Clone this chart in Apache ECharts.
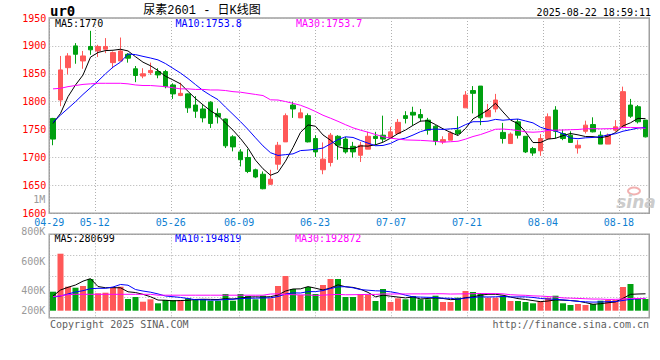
<!DOCTYPE html>
<html><head><meta charset="utf-8">
<script src="https://cdn.jsdelivr.net/npm/echarts@6/dist/echarts.min.js"></script>
<style>html,body{margin:0;padding:0;background:#fff}#c{width:660px;height:360px}</style>
</head><body><div id="c"></div>
<script>
const dates = ['04-29','04-30',
'05-06','05-07','05-08','05-09','05-12','05-13','05-14','05-15','05-16',
'05-19','05-20','05-21','05-22','05-23','05-26','05-27','05-28','05-29','05-30',
'06-03','06-04','06-05','06-06','06-09','06-10','06-11','06-12','06-13',
'06-16','06-17','06-18','06-19','06-20','06-23','06-24','06-25','06-26','06-27',
'06-30','07-01','07-02','07-03','07-04','07-07','07-08','07-09','07-10','07-11',
'07-14','07-15','07-16','07-17','07-18','07-21','07-22','07-23','07-24','07-25',
'07-28','07-29','07-30','07-31','08-01','08-04','08-05','08-06','08-07','08-08',
'08-11','08-12','08-13','08-14','08-15','08-18','08-19','08-20','08-21','08-22'];
const opens = [1770,1803,1861,1900,1873,1899,1891,1894,1870,1873,
1885,1859,1846,1852,1854,1854,1830,1811,1814,1794,
1787,1799,1779,1769,1737,1710,1700,1678,1670,1652,
1688,1728,1794,1771,1775,1734,1678,1691,1738,1733,
1720,1704,1715,1738,1740,1735,1743,1775,1781,1777,
1767,1756,1728,1731,1749,1789,1820,1828,1773,1787,
1745,1725,1764,1738,1716,1712,1734,1785,1743,1740,
1717,1747,1759,1740,1724,1749,1755,1794,1791,1767];
const closes = [1733,1857,1882,1885,1882,1893,1899,1899,1888,1891,
1878,1847,1850,1856,1848,1827,1814,1815,1789,1783,
1771,1761,1773,1721,1719,1696,1675,1665,1644,1661,
1722,1775,1787,1780,1728,1710,1697,1740,1722,1710,
1710,1722,1738,1734,1733,1746,1763,1770,1776,1771,
1749,1729,1732,1744,1743,1812,1815,1771,1785,1803,
1734,1742,1740,1710,1708,1734,1773,1747,1734,1727,
1722,1758,1746,1724,1740,1755,1818,1774,1764,1737];
const lows = [1722,1792,1849,1868,1859,1884,1880,1887,1860,1873,
1870,1835,1842,1848,1842,1824,1805,1810,1780,1771,
1763,1753,1761,1717,1711,1684,1672,1663,1643,1651,
1678,1728,1771,1771,1727,1701,1670,1684,1696,1707,
1700,1692,1715,1722,1728,1735,1743,1761,1758,1764,
1741,1722,1724,1731,1740,1789,1779,1758,1773,1781,
1725,1725,1734,1708,1703,1703,1734,1734,1731,1727,
1707,1743,1745,1724,1724,1746,1755,1771,1761,1736];
const highs = [1771,1882,1887,1905,1891,1927,1902,1914,1890,1915,
1887,1864,1860,1870,1860,1857,1833,1834,1815,1810,
1794,1801,1788,1770,1740,1715,1715,1680,1675,1678,
1728,1779,1800,1788,1779,1740,1727,1744,1740,1737,
1728,1728,1746,1746,1775,1755,1769,1783,1791,1787,
1771,1758,1738,1747,1774,1819,1828,1828,1796,1814,
1762,1745,1769,1738,1719,1742,1779,1792,1750,1747,
1731,1766,1772,1747,1743,1767,1827,1805,1794,1767];
const volumes = [313500,940500,396000,379500,407600,523000,287100,297000,386100,396000,
193000,226000,148500,188100,122100,176500,176500,176500,204600,193000,
193000,165000,165000,275500,165000,275500,242500,188100,247500,204600,
407600,572500,358000,259000,391000,275500,424000,523000,523000,226000,
226000,275500,259000,160000,358000,143500,204600,188100,242500,188100,
188100,247500,143500,143500,214500,325000,308500,292000,214500,214500,
247500,160000,160000,143500,122100,160000,214500,247500,122100,94000,
110500,94000,110500,165000,176500,176500,391000,440500,193000,193000];
const ma5Head = [1761,1779,1809,1830];
const ma10Head = [1763,1776,1788,1800,1813,1825,1837,1850,1862];
const ma30Head = [1823,1824,1827,1829,1831,1832,1833,1833,1833,1833,1832,1830,1829,1829,1828,1827,1825,1823,1823,1822,1822,1821,1821,1820,1818,1817,1815,1813,1811];
const volMa5Head = [242500,341500,386100,424000];
const volMa10Head = [226000,242500,275500,308500,330000,363000,369600,369600,391000];
const volMa30Head = [231000,247500,264000,270600,270600,270600,270600,270600,270600,270600,270600,270600,270600,270600,255700,255700,255700,255700,255700,255700,255700,255700,255700,255700,255700,255700,255700,255700,255700];
const xTickDates = ['04-29','05-12','05-26','06-09','06-23','07-07','07-21','08-04','08-18'];
const priceMin = 1600, priceMax = 1950, priceStep = 50;
const volTickLabels = ['1M','800K','600K','400K','200K'];
const priceMaText = ['MA5:1770','MA10:1753.8','MA30:1753.7'];
const volMaText = ['MA5:280699','MA10:194819','MA30:192872'];

function ma(arr, n, head) {
  return arr.map((_, i) => {
    if (i < n - 1) return head[i];
    let s = 0; for (let k = i - n + 1; k <= i; k++) s += arr[k];
    return +(s / n).toFixed(1);
  });
}
const RED = '#ff5858', GREEN = '#00a010';
const C5 = '#000000', C10 = '#0000ff', C30 = '#ff00ff';
const MONO = "'DejaVu Sans Mono', monospace";
const dotted = {color: '#b0b0b0', type: [1, 2], width: 1};
const showTick = (i, v) => xTickDates.indexOf(v) >= 0;
// vol label layout (px above the bottom of the label band)
const volLabelPos = [118, 86, 56, 27, 7];

const chart = echarts.init(document.getElementById('c'), null, {renderer: 'svg', width: 660, height: 360});
const L = 49.25, W = 600;
const grids = [
  {left: L, width: W, top: 18, height: 195.3, show: true, borderColor: '#a0a0a0', borderWidth: 1.5},
  {left: L, width: W, top: 234.3, height: 83.4, show: true, borderColor: '#a0a0a0', borderWidth: 1.5},
  {left: L, width: W, top: 190, height: 127.7, show: false}
];
const hiddenCat = (g) => ({type: 'category', gridIndex: g, data: dates, boundaryGap: true,
  axisLine: {show: false}, axisTick: {show: false}, axisLabel: {show: false}, splitLine: {show: false}});
const labelCat = (g, labels) => ({type: 'category', gridIndex: g, data: dates, boundaryGap: false, position: 'bottom',
  axisLine: {show: false}, axisTick: {show: false},
  axisLabel: {show: labels, interval: showTick, color: '#0f7fd2', fontFamily: MONO, fontSize: 10, margin: 4},
  splitLine: {show: true, interval: showTick, lineStyle: dotted}});

const option = {
  animation: false,
  backgroundColor: '#fff',
  grid: grids,
  xAxis: [hiddenCat(0), labelCat(0, true), hiddenCat(1), labelCat(1, false),
    {type: 'value', gridIndex: 2, show: false, min: 0, max: 1}],
  yAxis: [
    {type: 'value', gridIndex: 0, min: priceMin, max: priceMax, interval: priceStep,
      axisLine: {show: false}, axisTick: {show: false},
      axisLabel: {color: '#ff0000', fontFamily: MONO, fontSize: 10, margin: 3, formatter: (v) => String(v)},
      splitLine: {show: true, lineStyle: dotted}},
    {type: 'value', gridIndex: 1, min: -115500, max: 1260600, show: false, splitLine: {show: false}},
    {type: 'value', gridIndex: 1, min: 0, max: 4, interval: 1,
      axisLine: {show: false}, axisTick: {show: false}, axisLabel: {show: false},
      splitLine: {show: true, lineStyle: dotted}},
    {type: 'value', gridIndex: 2, min: 0, max: 127.7,
      axisLine: {show: false}, axisTick: {show: false}, splitLine: {show: false},
      axisLabel: {customValues: volLabelPos, color: '#9a9a9a', fontFamily: MONO, fontSize: 10, margin: 4,
        formatter: (v) => volTickLabels[volLabelPos.indexOf(v)] || ''}}
  ],
  series: [
    {type: 'candlestick', xAxisIndex: 0, yAxisIndex: 0, barWidth: 5,
      data: opens.map((o, i) => [o, closes[i], lows[i], highs[i]]),
      itemStyle: {color: RED, color0: GREEN, borderColor: RED, borderColor0: GREEN, borderWidth: 1}},
    {type: 'line', xAxisIndex: 0, yAxisIndex: 0, data: ma(closes, 5, ma5Head), symbol: 'none', lineStyle: {color: C5, width: 1}},
    {type: 'line', xAxisIndex: 0, yAxisIndex: 0, data: ma(closes, 10, ma10Head), symbol: 'none', lineStyle: {color: C10, width: 1}},
    {type: 'line', xAxisIndex: 0, yAxisIndex: 0, data: ma(closes, 30, ma30Head), symbol: 'none', lineStyle: {color: C30, width: 1}},
    {type: 'bar', xAxisIndex: 2, yAxisIndex: 1, barWidth: 6,
      data: volumes.map((v, i) => ({value: v, itemStyle: {color: closes[i] > opens[i] ? RED : GREEN}}))},
    {type: 'line', xAxisIndex: 2, yAxisIndex: 1, data: ma(volumes, 5, volMa5Head), symbol: 'none', lineStyle: {color: C5, width: 1}},
    {type: 'line', xAxisIndex: 2, yAxisIndex: 1, data: ma(volumes, 10, volMa10Head), symbol: 'none', lineStyle: {color: C10, width: 1}},
    {type: 'line', xAxisIndex: 2, yAxisIndex: 1, data: ma(volumes, 30, volMa30Head), symbol: 'none', lineStyle: {color: C30, width: 1}}
  ],
  graphic: [
    {type: 'text', left: 50, top: 4, style: {text: 'ur0', font: "bold 14px 'DejaVu Sans Mono'", fill: '#000'}},
    {type: 'text', x: 202, y: 10.5, style: {text: '尿素2601 - 日K线图', font: "12px 'Liberation Mono', 'Noto Sans CJK SC'", fill: '#000', align: 'center', verticalAlign: 'middle'}},
    {type: 'text', x: 651, y: 12, style: {text: '2025-08-22 18:59:11', font: "10px 'DejaVu Sans Mono'", fill: '#000', align: 'right', verticalAlign: 'middle'}},
    {type: 'text', x: 55, y: 23.5, style: {text: priceMaText[0], font: "10px 'DejaVu Sans Mono'", fill: C5, verticalAlign: 'middle'}},
    {type: 'text', x: 175.5, y: 23.5, style: {text: priceMaText[1], font: "10px 'DejaVu Sans Mono'", fill: C10, verticalAlign: 'middle'}},
    {type: 'text', x: 296, y: 23.5, style: {text: priceMaText[2], font: "10px 'DejaVu Sans Mono'", fill: C30, verticalAlign: 'middle'}},
    {type: 'text', x: 54.5, y: 238.5, style: {text: volMaText[0], font: "10px 'DejaVu Sans Mono'", fill: C5, verticalAlign: 'middle'}},
    {type: 'text', x: 175, y: 238.5, style: {text: volMaText[1], font: "10px 'DejaVu Sans Mono'", fill: C10, verticalAlign: 'middle'}},
    {type: 'text', x: 295, y: 238.5, style: {text: volMaText[2], font: "10px 'DejaVu Sans Mono'", fill: C30, verticalAlign: 'middle'}},
    {type: 'text', x: 50, y: 324, style: {text: 'Copyright 2025 SINA.COM', font: "10px 'DejaVu Sans Mono'", fill: '#606060', verticalAlign: 'middle'}},
    {type: 'text', x: 649, y: 324, style: {text: 'http://finance.sina.com.cn', font: "10px 'DejaVu Sans Mono'", fill: '#606060', align: 'right', verticalAlign: 'middle'}},
    {type: 'ellipse', shape: {cx: 634, cy: 191, rx: 6, ry: 3.5}, style: {fill: 'none', stroke: '#f2b0b0', lineWidth: 2}},
    {type: 'text', x: 636, y: 202, style: {text: 'sina', font: "italic bold 17px 'DejaVu Sans'", fill: '#cccccc', align: 'center', verticalAlign: 'middle'}}
  ]
};
chart.setOption(option);
</script></body></html>
